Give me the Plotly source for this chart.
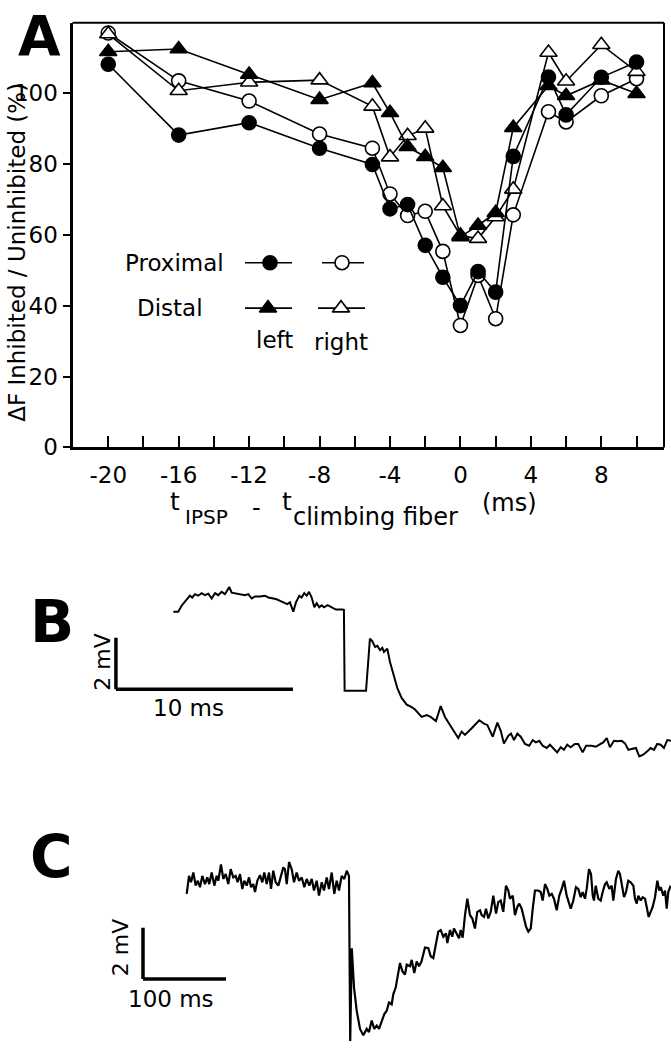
import plotly.graph_objects as go

W, H = 671, 1054
FONT = "DejaVu Sans"

# ---------------- Panel A data ----------------
delay_ms = [-20, -16, -12, -8, -5, -4, -3, -2, -1, 0, 1, 2, 3, 5, 6, 8, 10]
proximal_left = [108.1, 88.1, 91.6, 84.4, 79.8, 67.3, 68.5, 57.0, 48.0, 40.0,
                 49.6, 43.8, 82.1, 104.5, 93.8, 104.4, 108.7]
proximal_right = [116.9, 103.4, 97.7, 88.4, 84.4, 71.5, 65.4, 66.6, 55.3, 34.4,
                  48.5, 36.3, 65.6, 94.7, 91.8, 99.2, 104.0]
distal_left = [111.6, 112.4, 105.2, 98.1, 102.8, 94.4, 84.8, 82.0, 78.9, 59.4,
               62.6, 66.2, 90.2, 102.0, 99.2, 103.6, 99.8]
distal_right = [116.6, 100.6, 103.0, 103.6, 96.2, 81.9, 87.9, 90.0, 68.1, 59.8,
                58.9, 65.0, 72.8, 111.4, 103.3, 113.6, 106.0]

x_tick_vals = list(range(-20, 11, 2))
x_tick_text = [str(v) if (v % 4 == 0 and v <= 8) else "" for v in x_tick_vals]
y_tick_vals = [0, 20, 40, 60, 80, 100]

# ---------------- Panel B trace (ms, mV) ----------------
b_time_ms = [0.00, 0.28, 0.47, 0.72, 0.94, 1.07, 1.23, 1.41, 1.60, 1.79,
             1.98, 2.17, 2.36, 2.54, 2.73, 2.92, 3.16, 3.30, 3.58, 3.86,
             4.05, 4.24, 4.43, 4.62, 4.90, 5.18, 5.37, 5.65, 5.84, 6.03,
             6.21, 6.44, 6.59, 6.78, 6.93, 7.12, 7.25, 7.40, 7.54, 7.67,
             7.82, 7.97, 8.10, 8.25, 8.38, 8.51, 8.72, 8.95, 9.19, 9.57,
             9.64, 9.68, 10.89, 11.11, 11.24, 11.40, 11.53, 11.68, 11.81, 11.90,
             12.09, 12.24, 12.43, 12.66, 12.90, 13.19, 13.47, 13.66, 14.03, 14.32,
             14.54, 14.84, 15.11, 15.35, 15.73, 16.10, 16.29, 16.48, 16.86, 17.29,
             17.55, 17.74, 18.05, 18.31, 18.50, 18.68, 18.93, 19.08, 19.25, 19.44,
             19.63, 19.87, 20.11, 20.31, 20.49, 20.68, 20.87, 21.10, 21.28, 21.51,
             21.69, 21.89, 22.07, 22.26, 22.45, 22.69, 22.88, 23.13, 23.32, 23.64,
             23.88, 24.07, 24.29, 24.49, 24.67, 24.90, 25.08, 25.33, 25.52, 25.71,
             25.95, 26.14, 26.33, 26.55, 26.78, 26.97, 27.16, 27.34, 27.54, 27.72,
             27.91, 28.12]
b_voltage_mV = [0.00, 0.00, 0.23, 0.46, 0.62, 0.55, 0.68, 0.62, 0.72, 0.64,
                0.70, 0.51, 0.72, 0.64, 0.77, 0.68, 0.96, 0.74, 0.70, 0.68,
                0.64, 0.68, 0.51, 0.59, 0.59, 0.62, 0.55, 0.51, 0.48, 0.42,
                0.36, 0.29, 0.36, 0.00, 0.36, 0.62, 0.55, 0.72, 0.62, 0.77,
                0.55, 0.17, 0.33, 0.17, 0.25, 0.17, 0.25, 0.17, 0.08, 0.08,
                0.07, -3.08, -3.08, -1.05, -1.15, -1.37, -1.33, -1.50, -1.41, -1.57,
                -1.44, -1.95, -2.46, -2.98, -3.36, -3.62, -3.72, -3.81, -4.10, -4.03,
                -4.10, -4.26, -3.68, -4.10, -4.52, -4.92, -4.67, -4.80, -4.54, -4.23,
                -4.36, -4.41, -4.87, -4.32, -4.64, -5.13, -4.83, -4.75, -5.00, -4.75,
                -4.87, -5.15, -5.22, -5.00, -5.09, -5.03, -5.22, -5.31, -5.18, -5.35,
                -5.48, -5.28, -5.38, -5.18, -5.28, -5.15, -5.15, -5.48, -5.22, -5.22,
                -5.26, -5.18, -5.09, -4.92, -5.28, -5.03, -5.05, -5.03, -5.13, -5.38,
                -5.35, -5.31, -5.64, -5.57, -5.44, -5.31, -5.38, -5.15, -5.18, -5.31,
                -5.00, -5.03]

# ---------------- Panel C trace (ms, mV) ----------------
c_time_ms = [0.0, 2.8, 5.2, 8.0, 10.8, 13.3, 16.0, 18.8, 22.0, 24.8,
             27.2, 30.1, 33.3, 36.1, 38.1, 41.3, 44.1, 47.0, 50.1, 53.0,
             56.1, 59.0, 61.4, 64.2, 67.0, 69.4, 72.3, 75.1, 77.5, 80.2,
             82.3, 85.1, 88.3, 91.1, 93.5, 96.4, 99.2, 101.6, 104.3, 107.2,
             110.4, 113.6, 116.4, 118.4, 120.5, 123.3, 126.5, 129.3, 132.5, 135.3,
             138.6, 141.7, 144.6, 147.7, 150.6, 153.4, 156.6, 159.4, 162.7, 165.4,
             168.7, 171.4, 174.7, 177.8, 180.7, 183.5, 186.7, 189.9, 192.8, 195.5,
             197.0, 198.9, 201.6, 204.8, 208.8, 212.8, 216.9, 219.6, 222.9, 226.0,
             228.9, 231.7, 234.9, 238.1, 241.0, 243.7, 247.0, 248.9, 251.8, 254.2,
             257.0, 259.8, 263.0, 265.1, 269.0, 271.1, 274.2, 277.1, 279.9, 282.9,
             287.1, 291.1, 294.0, 297.1, 300.4, 303.1, 306.0, 309.2, 312.4, 314.0,
             317.2, 320.0, 322.0, 325.3, 328.1, 330.1, 332.5, 335.3, 338.1, 341.3,
             344.1, 347.3, 350.1, 353.4, 355.4, 358.2, 360.6, 363.4, 366.3, 369.4,
             372.7, 375.4, 378.3, 381.4, 384.7, 387.5, 389.5, 392.8, 395.5, 398.3,
             400.7, 403.6, 406.4, 408.8, 411.6, 414.5, 416.9, 419.6, 423.6, 426.5,
             428.9, 431.7, 434.5, 436.9, 439.8, 442.5, 445.8, 448.9, 451.8, 454.6,
             457.8, 460.6, 462.7, 465.8, 469.0, 471.8, 474.7, 477.1, 479.9, 481.9,
             484.7, 487.1, 489.2, 490.7, 492.8, 495.9, 498.8, 501.2, 504.0, 506.0,
             509.2, 512.0, 514.0, 517.2, 520.0, 522.0, 524.1, 526.9, 529.3, 532.0,
             534.9, 538.1, 540.1, 542.2, 544.1, 547.0, 549.4, 552.2, 554.2, 556.6,
             559.0, 561.4, 564.2, 567.0, 569.4, 571.1, 574.2, 576.3, 578.3, 580.2,
             583.1]
c_voltage_mV = [0.00, 0.70, 0.45, 0.83, 0.32, 0.51, 0.26, 0.70, 0.38, 0.64,
                0.38, 0.83, 0.32, 0.70, 0.51, 1.15, 0.58, 0.77, 0.38, 0.96,
                0.64, 0.70, 0.45, 0.77, 0.19, 0.51, 0.32, 0.64, 0.26, 0.38,
                0.07, 0.51, 0.73, 0.45, 0.83, 0.38, 0.83, 0.19, 0.90, 0.45,
                0.32, 0.70, 1.03, 0.96, 0.38, 1.24, 0.96, 0.45, 0.83, 0.51,
                0.64, 0.26, 0.58, 0.32, 0.58, 0.13, 0.51, -0.07, 0.45, 0.13,
                0.64, 0.19, 0.83, 0.00, 0.51, 0.13, 0.70, 0.58, 0.90, 0.70,
                -5.75, -2.12, -3.65, -4.55, -5.26, -5.51, -5.26, -5.38, -4.93, -5.26,
                -5.13, -5.26, -4.93, -4.68, -4.55, -4.23, -4.30, -3.91, -3.65, -3.27,
                -2.69, -3.01, -3.14, -2.76, -2.82, -2.57, -3.08, -2.63, -2.82, -2.63,
                -2.09, -2.12, -2.43, -2.50, -1.86, -1.47, -1.41, -1.67, -1.54, -1.92,
                -1.41, -1.67, -1.35, -1.54, -1.73, -1.41, -1.71, -0.83, -0.19, -0.83,
                -0.96, -1.35, -0.70, -0.64, -0.83, -0.90, -0.58, -0.96, -0.70, -0.07,
                -0.77, -0.32, -0.26, -0.70, 0.32, 0.13, -0.19, -0.07, -0.83, -0.51,
                -0.38, -0.58, -0.90, -1.28, -1.47, -1.35, -0.58, 0.13, 0.13, 0.07,
                -0.26, 0.38, 0.19, -0.07, 0.00, -0.19, -0.64, -0.07, 0.19, 0.51,
                -0.07, -0.38, -0.58, -0.26, 0.26, 0.19, -0.13, 0.07, -0.19, 0.19,
                0.96, 0.77, -0.07, -0.26, 0.32, -0.19, -0.26, 0.07, 0.38, 0.45,
                0.19, 0.32, -0.26, 0.58, 0.90, 0.77, 0.38, -0.13, 0.07, 0.51,
                0.45, 0.32, -0.19, -0.38, -0.07, -0.26, -0.13, -0.19, -0.51, -0.90,
                -0.70, -0.51, -0.13, 0.51, 0.13, 0.26, -0.07, 0.13, -0.58, 0.07,
                0.32]


def px(x, y):
    """Convert page pixel position to paper coordinates (layout helper)."""
    return x / W, 1 - y / H


fig = go.Figure()

# ---- Panel A series ----
series = [
    (proximal_right, "circle", "white"),
    (distal_right, "triangle-up", "white"),
    (distal_left, "triangle-up", "black"),
    (proximal_left, "circle", "black"),
]
for vals, sym, fill in series:
    fig.add_trace(go.Scatter(
        x=delay_ms, y=vals, mode="lines+markers", xaxis="x", yaxis="y",
        line=dict(color="black", width=1.6),
        marker=dict(symbol=sym, size=14 if sym == "circle" else 15, color=fill,
                    line=dict(color="black", width=1.6)),
        showlegend=False, hoverinfo="skip", cliponaxis=False))

# ---- Panel B & C traces ----
fig.add_trace(go.Scatter(x=b_time_ms, y=b_voltage_mV, mode="lines", xaxis="x2", yaxis="y2",
                         line=dict(color="black", width=2), showlegend=False, hoverinfo="skip"))
fig.add_trace(go.Scatter(x=c_time_ms, y=c_voltage_mV, mode="lines", xaxis="x3", yaxis="y3",
                         line=dict(color="black", width=2.2), showlegend=False, hoverinfo="skip"))

# ---- Legend keys for panel A (pixel overlay axis) ----
legend_keys = [
    # (line x0, line x1, marker x, y, symbol, fill)
    (245, 292, 270, 266, "circle", "black"),
    (322, 364, 342, 266, "circle", "white"),
    (245, 292, 268, 312, "triangle-up", "black"),
    (318, 365, 341, 312, "triangle-up", "white"),
]
for x0, x1, xm, yk, sym, fill in legend_keys:
    fig.add_trace(go.Scatter(x=[x0, x1], y=[yk, yk], mode="lines", xaxis="x4", yaxis="y4",
                             line=dict(color="black", width=1.6), showlegend=False, hoverinfo="skip"))
    fig.add_trace(go.Scatter(x=[xm], y=[yk], mode="markers", xaxis="x4", yaxis="y4",
                             marker=dict(symbol=sym, size=14 if sym == "circle" else 15, color=fill,
                                         line=dict(color="black", width=1.6)),
                             showlegend=False, hoverinfo="skip"))

tickfont = dict(family=FONT, size=23, color="black")
hidden = dict(visible=False, showgrid=False, zeroline=False, fixedrange=True)

fig.update_layout(
    width=W, height=H, autosize=False,
    margin=dict(l=0, r=0, t=0, b=0),
    paper_bgcolor="white", plot_bgcolor="rgba(0,0,0,0)",
    font=dict(family=FONT, color="black"),
    xaxis=dict(domain=[72.5 / W, 664 / W], range=[-22.03, 11.56], anchor="y",
               tickmode="array", tickvals=x_tick_vals, ticktext=x_tick_text,
               ticks="inside", ticklen=11, tickwidth=2, tickcolor="black",
               showline=True, linewidth=3, linecolor="black",
               showgrid=False, zeroline=False, tickfont=tickfont, ticklabelstandoff=5),
    yaxis=dict(domain=[1 - 453 / H, 1 - 23 / H], range=[0, 119.8], anchor="x",
               tickmode="array", tickvals=y_tick_vals,
               ticks="outside", ticklen=7, tickwidth=2, tickcolor="black",
               showline=True, linewidth=3, linecolor="black",
               showgrid=False, zeroline=False, tickfont=tickfont),
    xaxis2=dict(domain=[0, 1], range=[-9.79, 28.12], anchor="y2", **hidden),
    yaxis2=dict(domain=[1 - 780 / H, 1 - 580 / H], range=[-6.18, 1.51], anchor="x2", **hidden),
    xaxis3=dict(domain=[0, 1], range=[-224.94, 583.49], anchor="y3", **hidden),
    yaxis3=dict(domain=[0, 1 - 840 / H], range=[-5.73, 2.5], anchor="x3", **hidden),
    xaxis4=dict(domain=[0, 1], range=[0, W], anchor="y4", **hidden),
    yaxis4=dict(domain=[0, 1], range=[H, 0], anchor="x4", **hidden),
)

# Frame (top and right, thinner)
fig.add_shape(type="line", xref="x domain", yref="y domain", x0=0, x1=1, y0=1, y1=1,
              line=dict(color="black", width=2))
fig.add_shape(type="line", xref="x domain", yref="y domain", x0=1, x1=1, y0=0, y1=1,
              line=dict(color="black", width=2))

# Scale bars (data units of panels B and C)
B_BAR_T0, B_BAR_V0 = -3.24, -3.02
fig.add_shape(type="line", xref="x2", yref="y2", x0=B_BAR_T0, x1=B_BAR_T0, y0=B_BAR_V0, y1=B_BAR_V0 + 2,
              line=dict(color="black", width=3.5))
fig.add_shape(type="line", xref="x2", yref="y2", x0=B_BAR_T0, x1=B_BAR_T0 + 10, y0=B_BAR_V0, y1=B_BAR_V0,
              line=dict(color="black", width=3.5))
C_BAR_T0, C_BAR_V0 = -52.65, -3.32
fig.add_shape(type="line", xref="x3", yref="y3", x0=C_BAR_T0, x1=C_BAR_T0, y0=C_BAR_V0, y1=C_BAR_V0 + 2,
              line=dict(color="black", width=3.5))
fig.add_shape(type="line", xref="x3", yref="y3", x0=C_BAR_T0, x1=C_BAR_T0 + 100, y0=C_BAR_V0, y1=C_BAR_V0,
              line=dict(color="black", width=3.5))


def label(text, x, y, size=23, angle=0, bold=False):
    xp, yp = px(x, y)
    fig.add_annotation(text=f"<b>{text}</b>" if bold else text, x=xp, y=yp,
                       xref="paper", yref="paper", showarrow=False,
                       xanchor="center", yanchor="middle", textangle=angle,
                       font=dict(family=FONT, size=size, color="black"))


# Panel letters
label("A", 39, 36, size=55, bold=True)
label("B", 52, 630, size=58, bold=True)
label("C", 51, 868, size=58, bold=True)

# Axis titles of A
label("ΔF Inhibited / Uninhibited (%)", 17, 256, size=23, angle=-90)
label("t", 175.5, 508, size=25)
label("IPSP", 206.5, 523, size=20)
label("-", 256, 514, size=24)
label("t", 286.5, 508, size=25)
label("climbing fiber", 375, 523, size=24)
label("(ms)", 510, 509, size=24)

# Legend texts
label("Proximal", 174, 266, size=23)
label("Distal", 170, 312, size=23)
label("left", 274, 344, size=23)
label("right", 341, 346, size=23)

# Scale bar labels
label("2 mV", 103, 671, size=22, angle=-90)
label("10 ms", 188, 717, size=23)
label("2 mV", 120, 960, size=22, angle=-90)
label("100 ms", 171, 1011, size=23)

fig.write_html("out.html")
